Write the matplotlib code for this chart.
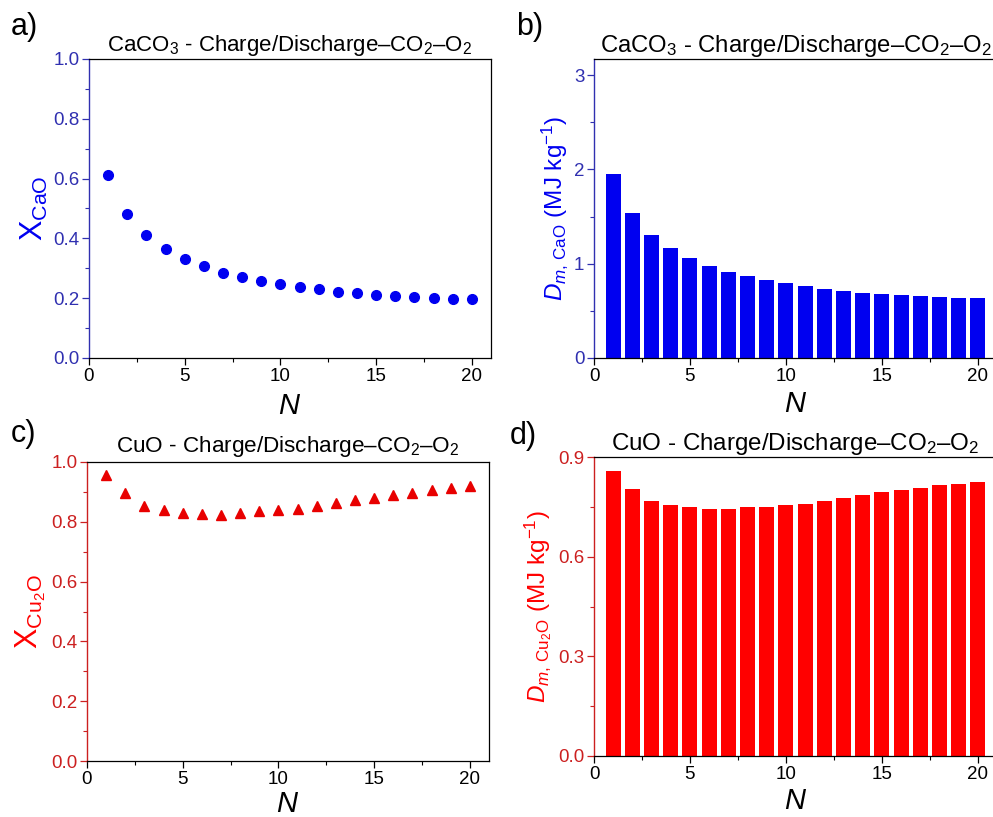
import numpy as np
import matplotlib
matplotlib.use("Agg")
from matplotlib import pyplot as plt
from matplotlib.ticker import MultipleLocator

plt.rcParams['font.family'] = ['Liberation Sans', 'DejaVu Sans']
plt.rcParams['mathtext.fontset'] = 'custom'
plt.rcParams['mathtext.rm'] = 'Liberation Sans'
plt.rcParams['mathtext.it'] = 'Liberation Sans:italic'
plt.rcParams['mathtext.bf'] = 'Liberation Sans:bold'

# cycle number
N = np.arange(1, 21)

# a) CaO conversion
x_cao = [0.611, 0.482, 0.410, 0.363, 0.331, 0.307, 0.285, 0.271, 0.258, 0.246,
         0.237, 0.230, 0.222, 0.216, 0.212, 0.207, 0.204, 0.201, 0.197, 0.196]
# b) CaO energy density (MJ/kg)
d_cao = [1.950, 1.534, 1.307, 1.163, 1.060, 0.975, 0.915, 0.866, 0.827, 0.792,
         0.763, 0.735, 0.714, 0.693, 0.678, 0.664, 0.654, 0.643, 0.633, 0.633]
# c) Cu2O conversion
x_cu2o = [0.955, 0.895, 0.854, 0.841, 0.831, 0.827, 0.824, 0.831, 0.835, 0.839,
          0.844, 0.854, 0.864, 0.873, 0.881, 0.890, 0.897, 0.905, 0.913, 0.919]
# d) Cu2O energy density (MJ/kg)
d_cu2o = [0.859, 0.804, 0.768, 0.757, 0.750, 0.744, 0.743, 0.750, 0.750, 0.755,
          0.759, 0.768, 0.776, 0.786, 0.795, 0.800, 0.807, 0.815, 0.820, 0.825]

title_ca = r"CaCO$_3$ - Charge/Discharge–CO$_2$–O$_2$"
title_cu = r"CuO - Charge/Discharge–CO$_2$–O$_2$"

blue = '#0000F0'
blue_ax = '#3030B0'
red = '#FF0000'
red_ax = '#CC2020'

W, H = 993., 817.

def mkaxes(fig, left, top, right, bottom):
    return fig.add_axes([left/W, 1 - bottom/H, (right-left)/W, (bottom-top)/H])

def style(ax, axcol, ymajor, yminor, xpad):
    for s in ['top', 'right', 'bottom']:
        ax.spines[s].set_color('black')
        ax.spines[s].set_linewidth(0.9)
    ax.spines['left'].set_color(axcol)
    ax.spines['left'].set_linewidth(1.0)
    ax.xaxis.set_major_locator(MultipleLocator(5))
    ax.xaxis.set_minor_locator(MultipleLocator(2.5))
    ax.yaxis.set_major_locator(MultipleLocator(ymajor))
    ax.yaxis.set_minor_locator(MultipleLocator(yminor))
    ax.tick_params(which='both', direction='out', top=False, right=False)
    ax.tick_params(which='major', length=5, width=0.9, labelsize=13.5, pad=2)
    ax.tick_params(which='minor', length=3, width=0.8)
    ax.tick_params(axis='y', which='both', colors=axcol)
    ax.tick_params(axis='x', which='both', colors='black')
    ax.set_xlim(0, 21)
    ax.set_xlabel('$N$', fontsize=21, labelpad=xpad)

fig = plt.figure(figsize=(9.93, 8.17), dpi=100)

# a)
ax = mkaxes(fig, 89, 59, 491, 358)
ax.plot(N, x_cao, 'o', color=blue, markersize=7)
ax.set_ylim(0, 1.0)
style(ax, blue_ax, 0.2, 0.1, 5)
ax.yaxis.set_major_formatter(plt.FormatStrFormatter('%.1f'))
ax.set_ylabel(r'X$_{\mathrm{CaO}}$', fontsize=22, color=blue, labelpad=2)
ax.set_title(title_ca, fontsize=16, pad=6)
fig.text(11/W, 1 - 12/H, 'a)', fontsize=22, va='top')

# b)
ax = mkaxes(fig, 594, 59, 997, 358)
ax.bar(N, d_cao, width=0.78, color=blue)
ax.set_ylim(0, 3.17)
style(ax, blue_ax, 1, 0.5, 4)
ax.set_ylabel(r'$D_{m,\,\mathrm{CaO}}$ (MJ kg$^{\mathrm{-1}}$)', fontsize=17.5, color=blue, labelpad=3)
ax.set_title(title_ca, fontsize=17.2, pad=3)
fig.text(516/W, 1 - 12/H, 'b)', fontsize=22, va='top')

# c)
ax = mkaxes(fig, 87, 462, 489, 761)
ax.plot(N, x_cu2o, '^', color='#E80000', markersize=7.5)
ax.set_ylim(0, 1.0)
style(ax, red_ax, 0.2, 0.1, 2)
ax.yaxis.set_major_formatter(plt.FormatStrFormatter('%.1f'))
ax.set_ylabel(r'X$_{\mathrm{Cu_{2}O}}$', fontsize=22, color=red, labelpad=2)
ax.set_title(title_cu, fontsize=16.2, pad=7)
fig.text(11/W, 1 - 419/H, 'c)', fontsize=22, va='top')

# d)
ax = mkaxes(fig, 594, 457, 997, 756)
ax.bar(N, d_cu2o, width=0.78, color=red)
ax.set_ylim(0, 0.9)
style(ax, red_ax, 0.3, 0.15, 3)
ax.yaxis.set_major_formatter(plt.FormatStrFormatter('%.1f'))
ax.set_ylabel(r'$D_{m,\,\mathrm{Cu_{2}O}}$ (MJ kg$^{\mathrm{-1}}$)', fontsize=17.5, color=red, labelpad=3)
ax.set_title(title_cu, fontsize=17.4, pad=3)
fig.text(510/W, 1 - 421/H, 'd)', fontsize=22, va='top')

fig.savefig('out.png', dpi=100)
